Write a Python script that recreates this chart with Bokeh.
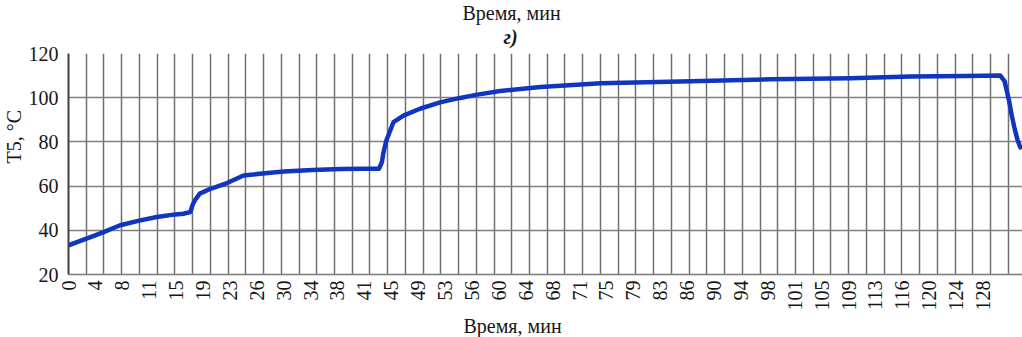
import math
from bokeh.plotting import figure
from bokeh.models import Range1d, FixedTicker, Title
from bokeh.embed import file_html
from bokeh.resources import INLINE

# ---- data ----
time_min = [0, 2.6, 4.9, 7.2, 10.0, 12.3, 14.9, 16.0, 17.0, 17.3, 17.6, 18.3, 19.8,
            22.1, 24.4, 26.7, 30.0, 34.0, 38.0, 41.0, 43.3, 43.7, 43.9, 44.3, 45.3,
            46.7, 49.0, 51.8, 54.6, 57.0, 60.2, 65.8, 74.2, 85.3, 97.9, 109.0,
            117.4, 125.0, 129.9, 130.5, 131.1, 131.5, 131.9, 132.3, 132.7]
t5_c = [33.2, 36.3, 39.2, 42.3, 44.5, 46.0, 47.2, 47.5, 48.3, 51.5, 53.5, 56.6, 58.8,
        61.4, 64.8, 65.6, 66.6, 67.3, 67.7, 67.9, 67.9, 71.0, 75.0, 80.5, 88.9,
        91.9, 95.0, 97.9, 99.9, 101.4, 103.0, 104.8, 106.5, 107.3, 108.3, 108.8,
        109.6, 109.8, 110.0, 107.5, 99.0, 92.0, 86.0, 81.0, 77.5]

tick_labels = ["0", "4", "8", "11", "15", "19", "23", "26", "30", "34", "38", "41",
               "45", "49", "53", "56", "60", "64", "68", "71", "75", "79", "83", "86",
               "90", "94", "98", "101", "105", "109", "113", "116", "120", "124", "128"]
label_step_min = 3.75
grid_step_min = 2.472
y_ticks = [20, 40, 60, 80, 100, 120]

FONT = "Liberation Serif, DejaVu Serif, serif"
TXT = "#161616"

p = figure(width=1022, height=337, output_backend="svg", toolbar_location=None,
           x_range=Range1d(0, 133.0), y_range=Range1d(20, 120),
           min_border_left=68, min_border_right=0, min_border_top=53,
           min_border_bottom=63)
p.outline_line_color = None
p.background_fill_color = "white"
p.border_fill_color = "white"

tick_pos = [i * label_step_min for i in range(len(tick_labels))]
p.xaxis.ticker = FixedTicker(ticks=tick_pos)
p.xaxis.major_label_overrides = {tp: lab for tp, lab in zip(tick_pos, tick_labels)}
p.xaxis.major_label_orientation = math.pi / 2
p.xaxis.major_label_standoff = 6
p.xaxis.major_label_text_font = FONT
p.xaxis.major_label_text_font_size = "20px"
p.xaxis.major_label_text_color = TXT
p.xaxis.major_tick_out = 0
p.xaxis.major_tick_in = 0
p.xaxis.minor_tick_out = 0
p.xaxis.minor_tick_in = 0
p.xaxis.axis_line_color = "#7a7a7a"
p.xaxis.axis_line_width = 1.5

p.yaxis.ticker = FixedTicker(ticks=y_ticks)
p.yaxis.major_label_standoff = 10
p.yaxis.major_label_text_font = FONT
p.yaxis.major_label_text_font_size = "20px"
p.yaxis.major_label_text_color = TXT
p.yaxis.major_tick_out = 0
p.yaxis.major_tick_in = 0
p.yaxis.minor_tick_out = 0
p.yaxis.minor_tick_in = 0
p.yaxis.axis_line_color = "#404040"
p.yaxis.axis_line_width = 2

n_grid = int(133.0 / grid_step_min) + 1
p.xgrid.ticker = FixedTicker(ticks=[i * grid_step_min for i in range(n_grid)])
p.xgrid.grid_line_color = "#707070"
p.xgrid.grid_line_width = 1.5
p.ygrid.ticker = FixedTicker(ticks=y_ticks)
p.ygrid.grid_line_color = "#808080"
p.ygrid.grid_line_width = 1.5

p.line(time_min, t5_c, line_color="#1036C0", line_width=4.5,
       line_join="round", line_cap="round")

def title(text, side, offset, style="normal", standoff=0, valign="middle", size="20px"):
    p.add_layout(Title(text=text, align="left", offset=offset, standoff=standoff,
                       vertical_align=valign, text_font=FONT, text_font_size=size,
                       text_font_style=style, text_color=TXT), side)

# small spacer between frame and the "г)" caption
title(" ", "above", 0, standoff=2, size="1px")
title("г)", "above", 435, style="bold italic")
title("Время, мин", "above", 394)
title("Время, мин", "below", 395)
title("T5, °C", "left", 111)

open("out.html", "w").write(file_html(p, INLINE))
